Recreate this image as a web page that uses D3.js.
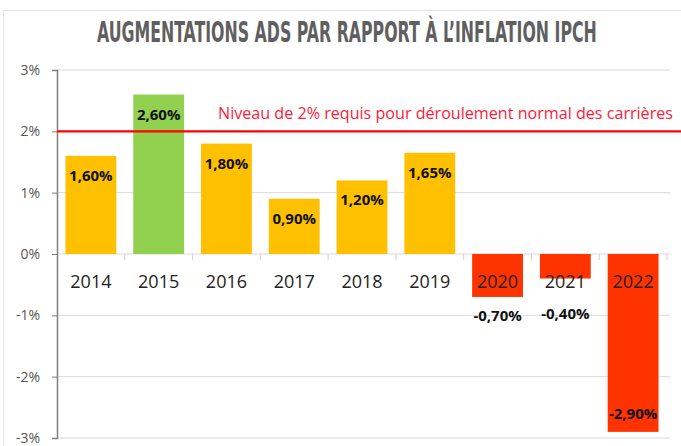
<!DOCTYPE html>
<html><head><meta charset="utf-8">
<script src="https://cdn.jsdelivr.net/npm/d3@7"></script>
<style>body{margin:0;background:#fff}svg{display:block}</style>
</head><body>
<svg id="c" width="681" height="446"></svg>
<script>
const years = ["2014","2015","2016","2017","2018","2019","2020","2021","2022"];
const values = [1.60, 2.60, 1.80, 0.90, 1.20, 1.65, -0.70, -0.40, -2.90];
const yTicks = [3, 2, 1, 0, -1, -2, -3];
const threshold = 2;
const title = "AUGMENTATIONS ADS PAR RAPPORT À L’INFLATION IPCH";
const thresholdLabel = "Niveau de 2% requis pour déroulement normal des carrières";

const svg = d3.select("#c");
const W = 681, H = 446;
// frame
svg.append("rect").attr("x",3.5).attr("y",10.5).attr("width",W+10).attr("height",H+10)
  .attr("fill","none").attr("stroke","#e3e3e3");

const x = d3.scaleBand().domain(years).range([57, 667]).paddingInner(0.25).paddingOuter(0.125);
const y = d3.scaleLinear().domain([-3, 3]).range([438, 70]);
const fmt = v => v.toFixed(2).replace(".", ",") + "%";
const tickFmt = v => v + "%";

// title (fit to width by horizontal scale)
const tg = svg.append("g");
const tt = tg.append("text").attr("x", 0).attr("y", 0)
  .attr("font-family","'Liberation Sans Narrow','DejaVu Sans Condensed',sans-serif")
  .attr("font-weight","bold").attr("font-size",28).attr("fill","#5f5f5f").text(title);
const tw = tt.node().getComputedTextLength();
const targetW = 500;
tg.attr("transform", `translate(97,41.5) scale(${targetW/tw},1)`);

// gridlines
svg.append("g").selectAll("line").data(yTicks).join("line")
  .attr("x1",57).attr("x2",670).attr("y1",d=>y(d)).attr("y2",d=>y(d))
  .attr("stroke","#d9d9d9").attr("stroke-width",1);

// y axis
const yAxis = svg.append("g").attr("transform","translate(57,0)")
  .call(d3.axisLeft(y).tickValues(yTicks).tickFormat(tickFmt).tickSize(5).tickPadding(12));
yAxis.select(".domain").attr("stroke","#7f7f7f").attr("stroke-width",1.5);
yAxis.selectAll(".tick line").attr("stroke","#7f7f7f");
yAxis.selectAll(".tick text").attr("font-family","'Open Sans',sans-serif").attr("font-size",14).attr("fill","#555");

// bars
const color = v => v >= threshold ? "#92D050" : (v < 0 ? "#FF3300" : "#FFC000");
svg.append("g").selectAll("rect").data(years).join("rect")
  .attr("x", d=>x(d)).attr("width", x.bandwidth())
  .attr("y", (d,i)=>y(Math.max(0, values[i])))
  .attr("height", (d,i)=>Math.abs(y(values[i]) - y(0)))
  .attr("fill", (d,i)=>color(values[i]));

// x axis (category ticks)
const step = x.step();
const bounds = d3.range(1, years.length + 1).map(i => x.range()[0] + i*step);
svg.append("g").selectAll("line").data(bounds).join("line")
  .attr("x1",d=>d).attr("x2",d=>d).attr("y1",y(0)).attr("y2",y(0)+6)
  .attr("stroke","#d0d0d0");

// year labels
svg.append("g").selectAll("text").data(years).join("text")
  .attr("x", d=>x(d)+x.bandwidth()/2).attr("y", 288).attr("text-anchor","middle")
  .attr("font-family","'Open Sans',sans-serif").attr("font-size",18).attr("fill","#222")
  .text(d=>d);

// threshold line
svg.append("line").attr("x1",57).attr("x2",W).attr("y1",y(threshold)).attr("y2",y(threshold))
  .attr("stroke","#FF0000").attr("stroke-width",2.2);
svg.append("text").attr("x",218).attr("y",119)
  .attr("font-family","'Open Sans',sans-serif").attr("font-size",15.5).attr("fill","#FF1a3a")
  .attr("textLength",455).attr("lengthAdjust","spacingAndGlyphs").text(thresholdLabel);

// data labels
svg.append("g").selectAll("text").data(years).join("text")
  .attr("x", d=>x(d)+x.bandwidth()/2)
  .attr("y", (d,i)=>{
    const v = values[i];
    if (v >= 0) return y(v) + 25;
    if (v > -1) return Math.max(y(v) + 24, 319);
    return y(v) - 13;
  })
  .attr("text-anchor","middle")
  .attr("font-family","'Open Sans',sans-serif").attr("font-weight","bold").attr("font-size",15)
  .attr("fill","#111").text((d,i)=>fmt(values[i]));
</script>
</body></html>
